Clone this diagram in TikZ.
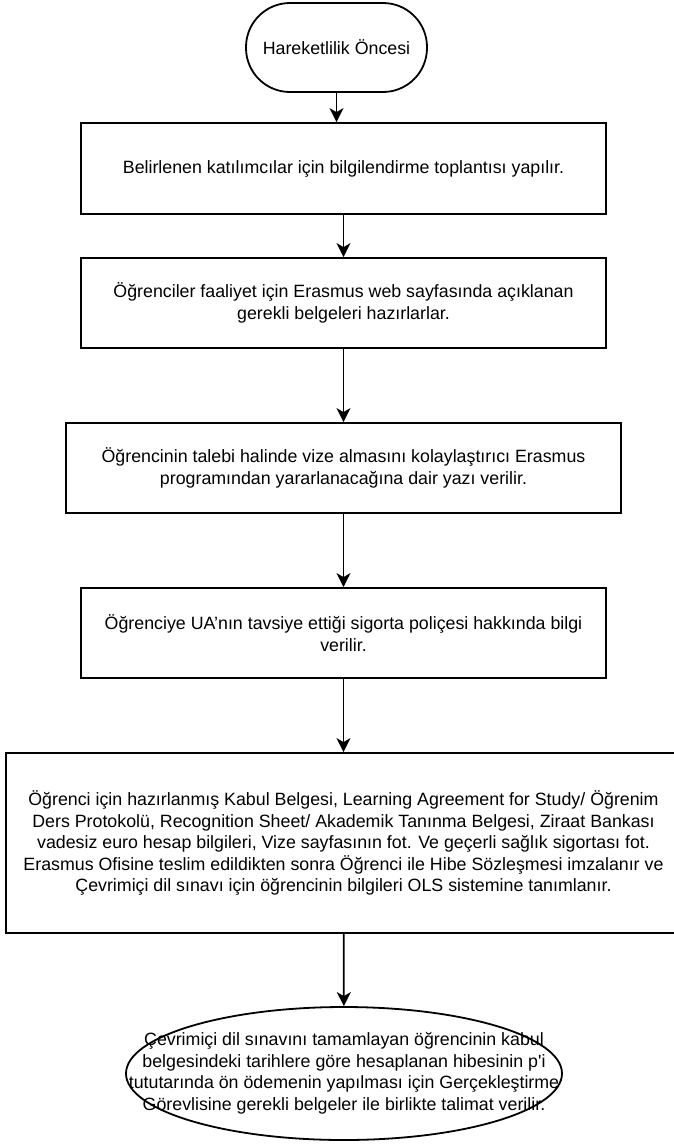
\documentclass[tikz,border=0pt]{standalone}
\usepackage{fontspec}
\setmainfont{Liberation Sans}
\usetikzlibrary{arrows.meta,shapes.geometric}
\begin{document}
\begin{tikzpicture}[x=1pt,y=-1pt,
  txt/.style={font=\fontsize{17.8}{21.5}\selectfont, align=center, inner sep=0pt},
  box/.style={draw, line width=1.8pt, rectangle, inner sep=0pt, txt},
  arr/.style={line width=1.8pt, -{Stealth[length=14pt,width=14pt,inset=4pt]}}]
\useasboundingbox (0,0) rectangle (674,1144);
\node[box, rounded corners=44pt, minimum width=181pt, minimum height=89pt] (start) at (336.5,47.5) {Hareketlilik Öncesi};
\node[box, minimum width=525pt, minimum height=91pt] (b1) at (343.5,168.5) {Belirlenen katılımcılar için bilgilendirme toplantısı yapılır.};
\node[box, minimum width=525pt, minimum height=90pt] (b2) at (343.5,303) {Öğrenciler faaliyet için Erasmus web sayfasında açıklanan\\gerekli belgeleri hazırlarlar.};
\node[box, minimum width=555pt, minimum height=90pt] (b3) at (343.5,468) {Öğrencinin talebi halinde vize almasını kolaylaştırıcı Erasmus\\programından yararlanacağına dair yazı verilir.};
\node[box, minimum width=525pt, minimum height=90pt] (b4) at (343.5,633) {Öğrenciye UA’nın tavsiye ettiği sigorta poliçesi hakkında bilgi\\verilir.};
\node[box, minimum width=675pt, minimum height=180pt] (b5) at (343.5,843) {Öğrenci için hazırlanmış Kabul Belgesi, Learning Agreement for Study/ Öğrenim\\Ders Protokolü, Recognition Sheet/ Akademik Tanınma Belgesi, Ziraat Bankası\\vadesiz euro hesap bilgileri, Vize sayfasının fot. Ve geçerli sağlık sigortası fot.\\Erasmus Ofisine teslim edildikten sonra Öğrenci ile Hibe Sözleşmesi imzalanır ve\\Çevrimiçi dil sınavı için öğrencinin bilgileri OLS sistemine tanımlanır.};
\node[draw, ellipse, line width=1.8pt, inner sep=0pt, minimum width=436pt, minimum height=133pt] (end) at (344,1073.5) {};
\node[txt] (endtxt) at (end.center) {Çevrimiçi dil sınavını tamamlayan öğrencinin kabul\\belgesindeki tarihlere göre hesaplanan hibesinin p\textquotesingle i\\tututarında ön ödemenin yapılması için Gerçekleştirme\\Görevlisine gerekli belgeler ile birlikte talimat verilir.};
\draw[arr] (start.south) -- (start.south |- b1.north);
\draw[arr] (b1) -- (b2);
\draw[arr] (b2) -- (b3);
\draw[arr] (b3) -- (b4);
\draw[arr] (b4) -- (b5);
\draw[arr] (b5) -- (end);
\end{tikzpicture}
\end{document}
